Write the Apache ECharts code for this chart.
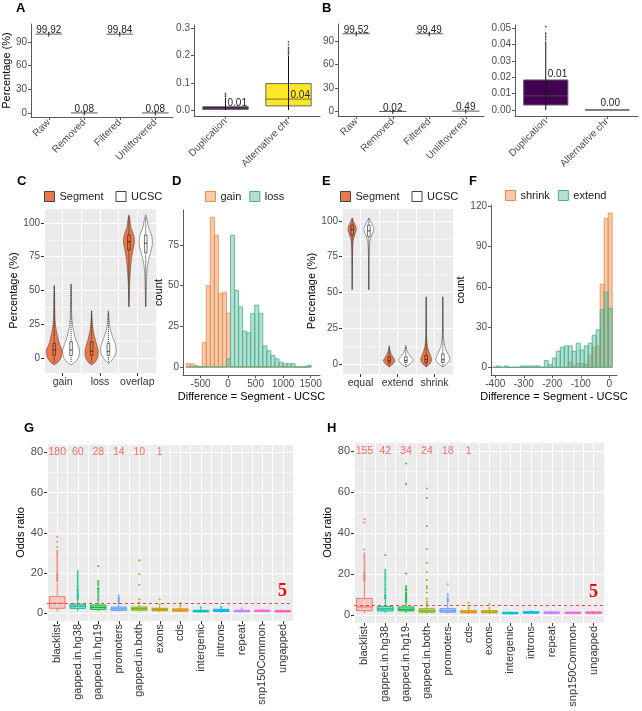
<!DOCTYPE html>
<html><head><meta charset="utf-8">
<script src="https://cdn.jsdelivr.net/npm/echarts@6/dist/echarts.min.js"></script>
<style>html,body{margin:0;padding:0;background:#fff}#c{width:642px;height:711px}</style>
</head><body><div id="c"></div>
<script>
// ================= DATA =================
const qcCats = ['Raw', 'Removed', 'Filtered', 'Unliftovered'];
const qcValuesA = [99.92, 0.08, 99.84, 0.08];
const qcValuesB = [99.52, 0.02, 99.49, 0.49];

const dupCats = ['Duplication', 'Alternative chr'];
const dupBoxA = [[0, 0.002, 0.006, 0.012, 0.045], [0, 0.015, 0.04, 0.097, 0.2]];
const dupOutliersA = [[0.05, 0.055, 0.06], [0.205, 0.21, 0.215, 0.22, 0.225, 0.23, 0.24, 0.25]];
const dupLabelsA = ['0.01', '0.04'];
const dupLabelYA = [0.026, 0.055];
const dupBoxB = [[0, 0.003, 0.0086, 0.0184, 0.042], [0, 0, 0, 0, 0]];
const dupOutliersB = [[0.043, 0.044, 0.045, 0.046, 0.047, 0.051], []];
const dupLabelsB = ['0.01', '0.00'];
const dupLabelYB = [0.022, 0.004];

const cCats = ['gain', 'loss', 'overlap'];
const cSegmentYs = [
  [-5, -3, 0, 3, 6, 10, 15, 20, 25, 30, 40, 50, 54],
  [-5, -3, 0, 3, 6, 10, 15, 20, 25, 30, 35],
  [38, 45, 55, 65, 72, 78, 82, 86, 90, 94, 97, 100, 103, 106]
];
const cSegmentDensity = [
  [0, 0.45, 0.8, 0.92, 0.95, 0.65, 0.44, 0.26, 0.14, 0.08, 0.05, 0.03, 0],
  [0, 0.4, 0.7, 0.78, 0.78, 0.6, 0.38, 0.2, 0.1, 0.05, 0],
  [0, 0.04, 0.08, 0.17, 0.28, 0.42, 0.55, 0.66, 0.6, 0.4, 0.22, 0.16, 0.1, 0]
];
const cSegmentBox = [[-3, 2, 6, 11, 53], [-3, 2, 5, 12, 35], [38, 80, 86, 91, 105]];
const cUcscYs = [
  [-5, -3, 0, 3, 6, 10, 15, 20, 25, 30, 40, 50, 55],
  [-4, -2, 0, 3, 6, 10, 15, 20, 25, 30, 35],
  [38, 45, 55, 65, 72, 78, 82, 86, 90, 94, 97, 100, 103, 106]
];
const cUcscDensity = [
  [0, 0.45, 0.85, 0.98, 1, 0.8, 0.5, 0.3, 0.16, 0.09, 0.05, 0.03, 0],
  [0, 0.35, 0.6, 0.85, 0.93, 0.85, 0.55, 0.28, 0.12, 0.06, 0],
  [0, 0.04, 0.08, 0.14, 0.3, 0.55, 0.72, 0.8, 0.72, 0.5, 0.32, 0.24, 0.12, 0]
];
const cUcscBox = [[-3, 2, 6, 12, 54], [-3, 2, 5, 11, 34], [38, 78, 85, 91, 104]];

const dBinWidth = 73.3;
const dBinCenters = [-726, -653, -580, -506, -433, -360, -286, -213, -140, -66, 7, 80, 153, 227, 300, 373, 447, 520, 593, 667, 740, 813, 887, 960, 1033, 1107, 1180, 1253, 1327, 1400, 1473];
const dGain = [2, 2, 1, 0, 15, 50, 92, 81, 45, 46, 33, 0, 0, 0, 0, 0, 0, 0, 0, 0, 0, 0, 0, 0, 0, 0, 0, 0, 0, 0, 0];
const dLoss = [0, 0, 0, 0, 0, 0, 0, 0, 0, 0, 5, 81, 47, 37, 22, 21, 33, 38, 33, 13, 10, 7, 5, 3, 2, 2, 2, 0, 0, 0, 1];

const eCats = ['equal', 'extend', 'shrink'];
const eSegmentYs = [
  [52, 65, 75, 82, 86, 89, 92, 94, 96, 98, 100, 102],
  [-2, 0, 2, 3, 5, 7, 9, 11, 13],
  [-2, 0, 2, 4, 6, 9, 12, 16, 20, 30, 40, 47]
];
const eSegmentDensity = [
  [0, 0.02, 0.04, 0.07, 0.12, 0.25, 0.42, 0.5, 0.45, 0.3, 0.15, 0],
  [0, 0.45, 0.68, 0.66, 0.45, 0.25, 0.12, 0.05, 0],
  [0, 0.4, 0.62, 0.64, 0.5, 0.3, 0.16, 0.08, 0.04, 0.02, 0.01, 0]
];
const eSegmentBox = [[52, 90, 94, 97, 102], [-2, 1, 2.5, 5, 12], [-2, 1, 3, 6, 47]];
const eUcscYs = [
  [52, 65, 75, 82, 86, 89, 92, 94, 96, 98, 100, 102],
  [-2, 0, 2, 3, 5, 7, 9, 11, 13],
  [-2, 0, 2, 4, 6, 9, 12, 16, 20, 30, 40, 47]
];
const eUcscDensity = [
  [0, 0.02, 0.04, 0.08, 0.14, 0.3, 0.5, 0.6, 0.52, 0.35, 0.18, 0],
  [0, 0.5, 0.85, 0.88, 0.62, 0.35, 0.15, 0.05, 0],
  [0, 0.45, 0.8, 0.84, 0.7, 0.45, 0.25, 0.12, 0.06, 0.03, 0.015, 0]
];
const eUcscBox = [[52, 89, 93, 97, 102], [-2, 1, 2.5, 5, 12], [-2, 1, 3, 7, 47]];

const fBinWidth = 14.04;
const fBinCenters = [-403, -389, -375, -361, -347, -333, -319, -305, -291, -277, -263, -249, -235, -221, -207, -193, -179, -165, -151, -137, -123, -109, -95, -81, -67, -53, -39, -25, -11, 3];
const fShrink = [0, 0, 0, 0, 0, 0, 0, 0, 0, 0, 0, 0, 0, 0, 0, 0, 0, 0, 0, 4, 1, 3, 3, 2, 9, 15, 16, 62, 111, 115];
const fExtend = [0, 1, 0, 1, 0, 0, 0, 1, 1, 1, 1, 1, 0, 5, 2, 7, 12, 15, 16, 16, 12, 18, 13, 16, 18, 24, 28, 43, 56, 44];

const gCats = ['blacklist', 'gapped.in.hg38', 'gapped.in.hg19', 'promoters', 'gapped.in.both', 'exons', 'cds', 'intergenic', 'introns', 'repeat', 'snp150Common', 'ungapped'];
const gBoxes = [
  [0.8, 2.5, 5, 8.3, 15], [1, 2.5, 3.6, 4.6, 6.6], [1, 2, 3, 4.1, 5.8], [0.8, 1.5, 2.2, 3.1, 4.6],
  [0.8, 1.6, 2.3, 3.1, 4.3], [0.6, 1.3, 1.8, 2.5, 3.8], [0.6, 1.1, 1.6, 2.2, 3.6], [0.3, 0.7, 1, 1.5, 2.5],
  [0.2, 1, 1.4, 2, 3], [0.4, 0.8, 1.1, 1.5, 2.2], [0.5, 0.9, 1.2, 1.6, 2.2], [0.4, 0.7, 1, 1.4, 2]
];
const gOutliers = [
  [16, 16.5, 17, 17.5, 18, 18.5, 19, 19.5, 20, 21, 22, 23, 24, 25, 26, 27, 28, 29, 30, 31, 33, 35.5, 38],
  [7, 7.5, 8, 8.5, 9, 9.5, 10, 11, 11.5, 12, 13, 14, 15, 16, 17, 18, 19, 20, 21],
  [6.5, 7, 8, 9, 10, 11, 12, 12.5, 14, 15, 16, 23.5],
  [5, 5.5, 6, 6.5, 7, 7.5, 8, 9],
  [5.3, 7, 14.2, 19.5, 26.3],
  [4.5, 7], [4, 5], [3], [3.2], [2.5], [], []
];
const gCounts = [180, 60, 28, 14, 10, 1];

const hCats = ['blacklist', 'gapped.in.hg38', 'gapped.in.hg19', 'gapped.in.both', 'promoters', 'cds', 'exons', 'intergenic', 'introns', 'repeat', 'snp150Common', 'ungapped'];
const hBoxes = [
  [0.8, 2.1, 4, 8.1, 16], [1, 2, 3, 4.1, 7.6], [1, 2, 2.8, 3.9, 6.5], [0.6, 1.4, 2, 3, 5.2],
  [0.6, 1.4, 2.1, 3.1, 6], [0.5, 1.1, 1.5, 2.1, 3.8], [0.5, 1.1, 1.5, 2.1, 3.2], [0.3, 0.6, 0.9, 1.3, 2],
  [0.6, 0.9, 1.2, 1.6, 2.4], [0.3, 0.8, 1.1, 1.5, 2.2], [0.4, 0.8, 1.1, 1.4, 2], [0.4, 0.8, 1.1, 1.5, 2.1]
];
const hOutliers = [
  [16.5, 17, 17.5, 18, 18.5, 19, 19.5, 20, 20.5, 21, 22, 23, 24, 25, 26, 27, 28, 29, 30, 32, 45.2, 46.8],
  [8, 8.5, 9, 9.5, 10, 11, 12, 13, 14, 15, 16, 17, 18, 19, 20, 21, 22, 29.3],
  [6.5, 7, 7.5, 8, 8.5, 9, 9.5, 10, 10.5, 11, 12, 12.5, 13, 14, 20.3, 63.9, 74],
  [5.5, 6.5, 8, 11, 13, 14, 17, 21, 25.5, 32.2, 43.4, 57.2, 61.8],
  [6.5, 7, 7.5, 8, 9, 10.2, 15],
  [4.5, 6], [3.5, 5.2], [], [], [], [], []
];
const hCounts = [155, 42, 34, 24, 18, 1];
const oddsThreshold = 5;

// ================= STYLE =================
const FONT = "'Liberation Sans', Arial, sans-serif";
const AXT = '#4D4D4D';
const HUE = {
  'blacklist': '#F8766D', 'cds': '#DE8C00', 'exons': '#B79F00', 'gapped.in.both': '#7CAE00',
  'gapped.in.hg19': '#00BA38', 'gapped.in.hg38': '#00C08B', 'intergenic': '#00BFC4', 'introns': '#00B4F0',
  'promoters': '#619CFF', 'repeat': '#C77CFF', 'snp150Common': '#F564E3', 'ungapped': '#FF64B0'
};
const SEG_FILL = '#EA784D';
const ORANGE = '#EC8A48', TEAL = '#45B08E';
function rgba(hex, a) {
  const n = parseInt(hex.slice(1), 16);
  return 'rgba(' + (n >> 16 & 255) + ',' + (n >> 8 & 255) + ',' + (n & 255) + ',' + a + ')';
}
function merge(a, b) {
  const o = Object.assign({}, a);
  for (const k in b) {
    if (b[k] && typeof b[k] === 'object' && !Array.isArray(b[k]) && a[k] && typeof a[k] === 'object' && !Array.isArray(a[k])) o[k] = merge(a[k], b[k]);
    else o[k] = b[k];
  }
  return o;
}
const plainNum = v => String(Math.round(v * 1e6) / 1e6);
const classic = {
  z: 1,
  axisLine: { show: true, onZero: false, lineStyle: { color: '#5a5a5a', width: 1 } },
  axisTick: { show: true, length: 3, lineStyle: { color: '#5a5a5a' } },
  axisLabel: { color: AXT, fontSize: 10, margin: 4, fontFamily: FONT, showMinLabel: false, showMaxLabel: false },
  splitLine: { show: false },
  nameTextStyle: { color: '#000', fontSize: 11, fontFamily: FONT },
  nameLocation: 'middle'
};
const grey = {
  z: 1,
  axisLine: { show: false, onZero: false },
  axisTick: { show: true, length: 3, lineStyle: { color: '#333' } },
  axisLabel: { color: AXT, fontSize: 10, margin: 4, fontFamily: FONT, showMinLabel: false, showMaxLabel: false },
  splitLine: { show: true, lineStyle: { color: '#ffffff', width: 1 } },
  minorTick: { show: false, splitNumber: 2 },
  minorSplitLine: { show: true, lineStyle: { color: '#ffffff', width: 0.5 } },
  nameTextStyle: { color: '#000', fontSize: 11, fontFamily: FONT },
  nameLocation: 'middle'
};
function valAxis(base, grid, min, max, step, extra) {
  return merge(merge(base, { type: 'value', gridIndex: grid, min: min, max: max, minInterval: step, maxInterval: step,
    axisLabel: { formatter: plainNum } }), extra || {});
}
function catAxis(base, grid, data, extra) {
  return merge(merge(base, { type: 'category', gridIndex: grid, data: data, position: 'bottom', axisTick: { alignWithLabel: true },
    axisLabel: { interval: 0, showMinLabel: true, showMaxLabel: true } }), extra || {});
}
function helperAxis(grid, n) {
  return { type: 'value', gridIndex: grid, min: 0, max: 2 * n, interval: 1, position: 'top', z: 1,
    axisLine: { show: false, onZero: false }, axisTick: { show: false }, axisLabel: { show: false },
    splitLine: { show: true, lineStyle: { color: ['rgba(0,0,0,0)', '#ffffff'], width: 1 } } };
}

// ================= RENDERERS =================
function qcLineItem(values) {
  return function (params, api) {
    const i = params.dataIndex, v = values[i];
    const p = api.coord([i, v]);
    const bw = api.size([1, 0])[0] * 0.75;
    return { type: 'group', children: [
      { type: 'line', shape: { x1: p[0] - bw / 2, y1: p[1], x2: p[0] + bw / 2, y2: p[1] }, style: { stroke: '#5a5a5a', lineWidth: 1 } },
      { type: 'line', shape: { x1: p[0], y1: p[1] - 2, x2: p[0], y2: p[1] + 2.5 }, style: { stroke: '#222', lineWidth: 1 } },
      { type: 'text', style: { text: v.toFixed(2), x: p[0], y: p[1] + 1.5, align: 'center', verticalAlign: 'bottom', fontSize: 10, fontFamily: FONT, fill: '#222' } }
    ] };
  };
}
function qcBoxItem(boxes, labels, labelYs, fills) {
  return function (params, api) {
    const i = params.dataIndex, b = boxes[i];
    const x = api.coord([i, 0])[0];
    const bw = api.size([1, 0])[0] * 0.72;
    const Y = v => api.coord([i, v])[1];
    const flat = b[1] === b[3];
    const kids = [
      { type: 'rect', shape: { x: x - bw / 2, y: Y(b[3]), width: bw, height: Y(b[1]) - Y(b[3]) },
        style: { fill: flat ? 'none' : fills[i], stroke: flat ? '#7a7a7a' : '#6a6a6a', lineWidth: 1 } },
      { type: 'line', shape: { x1: x - bw / 2, y1: Y(b[2]), x2: x + bw / 2, y2: Y(b[2]) }, style: { stroke: '#555', lineWidth: 0.8 } }
    ];
    if (!flat) kids.push({ type: 'line', shape: { x1: x, y1: Y(b[0]), x2: x, y2: Y(b[4]) }, style: { stroke: '#111', lineWidth: 1 } });
    kids.push({ type: 'text', style: { text: labels[i], x: flat ? x + 3 : x + 2, y: Y(labelYs[i]), align: flat ? 'center' : 'left',
      verticalAlign: 'middle', fontSize: 10, fontFamily: FONT, fill: '#222' } });
    return { type: 'group', children: kids };
  };
}
function violinItem(ysArr, densArr, boxArr, offset, fill) {
  return function (params, api) {
    const i = params.dataIndex;
    const cx = 2 * i + 1 + offset;
    const half = 0.45 * api.size([1, 0])[0];
    const ys = ysArr[i], ds = densArr[i], b = boxArr[i];
    const right = [], left = [];
    for (let k = 0; k < ys.length; k++) {
      const p = api.coord([cx, ys[k]]);
      right.push([p[0] + ds[k] * half, p[1]]);
      left.push([p[0] - ds[k] * half, p[1]]);
    }
    const pts = right.concat(left.reverse());
    const x = api.coord([cx, 0])[0];
    const Y = v => api.coord([cx, v])[1];
    const w = 2.6;
    return { type: 'group', children: [
      { type: 'polygon', shape: { points: pts, smooth: 0.25 }, style: { fill: fill, stroke: '#3a3a3a', lineWidth: 0.5 } },
      { type: 'line', shape: { x1: x, y1: Y(b[0]), x2: x, y2: Y(b[4]) }, style: { stroke: '#1a1a1a', lineWidth: 0.8, lineDash: [1.2, 0.8] } },
      { type: 'rect', shape: { x: x - w / 2, y: Y(b[3]), width: w, height: Y(b[1]) - Y(b[3]) }, style: { fill: fill, stroke: '#1a1a1a', lineWidth: 0.6 } },
      { type: 'line', shape: { x1: x - w / 2, y1: Y(b[2]), x2: x + w / 2, y2: Y(b[2]) }, style: { stroke: '#1a1a1a', lineWidth: 0.8 } }
    ] };
  };
}
function histItem(bw, fill, stroke) {
  return function (params, api) {
    const c = api.value(0), n = api.value(1);
    const p0 = api.coord([c - bw / 2, n]);
    const p1 = api.coord([c + bw / 2, 0]);
    return { type: 'rect', shape: { x: p0[0], y: p0[1], width: p1[0] - p0[0], height: p1[1] - p0[1] },
      style: { fill: fill, stroke: stroke, lineWidth: 0.8 } };
  };
}
function hueBoxItem(boxes, cats) {
  return function (params, api) {
    const i = params.dataIndex, b = boxes[i], col = HUE[cats[i]];
    const x = api.coord([i, 0])[0];
    const bw = api.size([1, 0])[0] * 0.75;
    const Y = v => api.coord([i, v])[1];
    return { type: 'group', children: [
      { type: 'line', shape: { x1: x, y1: Y(b[0]), x2: x, y2: Y(b[1]) }, style: { stroke: col, lineWidth: 1 } },
      { type: 'line', shape: { x1: x, y1: Y(b[3]), x2: x, y2: Y(b[4]) }, style: { stroke: col, lineWidth: 1 } },
      { type: 'rect', shape: { x: x - bw / 2, y: Y(b[3]), width: bw, height: Y(b[1]) - Y(b[3]) }, style: { fill: rgba(col, 0.3), stroke: col, lineWidth: 1 } },
      { type: 'line', shape: { x1: x - bw / 2, y1: Y(b[2]), x2: x + bw / 2, y2: Y(b[2]) }, style: { stroke: col, lineWidth: 1.3 } }
    ] };
  };
}

// ================= AXES =================
const greyGrid = { show: true, backgroundColor: '#EBEBEB', borderWidth: 0, z: -1 };
const grids = [
  { left: 27, top: 24, width: 146, height: 93 },   // A left
  { left: 194, top: 25, width: 126, height: 91 },  // A right
  { left: 338, top: 24, width: 146, height: 92 },  // B left
  { left: 515, top: 25, width: 123, height: 91 },  // B right
  merge(greyGrid, { left: 44, top: 208, width: 112, height: 165 }), // C
  { left: 183, top: 210, width: 137, height: 165 }, // D
  merge(greyGrid, { left: 342, top: 208, width: 111, height: 166 }), // E
  { left: 491, top: 205, width: 126, height: 170 }, // F
  merge(greyGrid, { left: 47, top: 444, width: 246, height: 177 }), // G
  merge(greyGrid, { left: 354, top: 442, width: 250, height: 181 })  // H
];
const rot45 = { axisLabel: { rotate: 45, fontSize: 10 } };
const xAxes = [
  catAxis(classic, 0, qcCats, rot45),                 // 0
  catAxis(classic, 1, dupCats, rot45),                // 1
  catAxis(classic, 2, qcCats, rot45),                 // 2
  catAxis(classic, 3, dupCats, rot45),                // 3
  catAxis(grey, 4, cCats, { axisLabel: { fontSize: 10.5, color: '#333' } }), // 4
  helperAxis(4, cCats.length),                        // 5
  valAxis(classic, 5, -820, 1670, 500, { name: 'Difference = Segment - UCSC', nameGap: 16 }), // 6
  catAxis(grey, 6, eCats, { axisLabel: { fontSize: 10.5, color: '#333' } }), // 7
  helperAxis(6, eCats.length),                        // 8
  valAxis(classic, 7, -415, 27, 100, { name: 'Difference = Segment - UCSC', nameGap: 16 }), // 9
  catAxis(grey, 8, gCats, { axisLabel: { rotate: 90, fontSize: 11, margin: 3, color: '#333' } }), // 10
  helperAxis(8, gCats.length),                        // 11
  catAxis(grey, 9, hCats, { axisLabel: { rotate: 90, fontSize: 11, margin: 3, color: '#333' } }), // 12
  helperAxis(9, hCats.length)                         // 13
];
const yAxes = [
  valAxis(classic, 0, -5.1, 112.7, 30, { name: 'Percentage (%)', nameGap: 15 }),
  valAxis(classic, 1, -0.022, 0.312, 0.1, { axisLabel: { formatter: v => v.toFixed(1) } }),
  valAxis(classic, 2, -5.8, 112, 30),
  valAxis(classic, 3, -0.0037, 0.052, 0.01, { axisLabel: { formatter: v => v.toFixed(2) } }),
  valAxis(grey, 4, -11, 111, 25, { name: 'Percentage (%)', nameGap: 17 }),
  valAxis(classic, 5, -4.9, 96.5, 25, { name: 'count', nameGap: 16 }),
  valAxis(grey, 6, -7, 109, 25, { name: 'Percentage (%)', nameGap: 16 }),
  valAxis(classic, 7, -5.7, 121, 30, { name: 'count', nameGap: 17 }),
  valAxis(grey, 8, -3.8, 84.1, 20, { name: 'Odds ratio', nameGap: 20, axisLabel: { fontSize: 11 } }),
  valAxis(grey, 9, -3.9, 84.5, 20, { name: 'Odds ratio', nameGap: 21, axisLabel: { fontSize: 11 } })
];

// ================= SERIES =================
const series = [];
function outlierScatter(outs, xi, yi, colorFn, size) {
  const data = [];
  outs.forEach((arr, i) => arr.forEach(v => data.push({ value: [i, v], itemStyle: { color: colorFn(i) } })));
  return { type: 'scatter', xAxisIndex: xi, yAxisIndex: yi, symbolSize: size, data: data, silent: true, z: 3 };
}
// A / B
series.push({ type: 'custom', xAxisIndex: 0, yAxisIndex: 0, renderItem: qcLineItem(qcValuesA), data: qcValuesA.map((v, i) => [i, v]) });
series.push({ type: 'custom', xAxisIndex: 1, yAxisIndex: 1, renderItem: qcBoxItem(dupBoxA, dupLabelsA, dupLabelYA, ['#440154', '#FDE725']), data: dupBoxA.map((b, i) => [i, b[2]]) });
series.push(outlierScatter(dupOutliersA, 1, 1, () => '#111', 1.6));
series.push({ type: 'custom', xAxisIndex: 2, yAxisIndex: 2, renderItem: qcLineItem(qcValuesB), data: qcValuesB.map((v, i) => [i, v]) });
series.push({ type: 'custom', xAxisIndex: 3, yAxisIndex: 3, renderItem: qcBoxItem(dupBoxB, dupLabelsB, dupLabelYB, ['#440154', '#FDE725']), data: dupBoxB.map((b, i) => [i, b[2]]) });
series.push(outlierScatter(dupOutliersB, 3, 3, () => '#111', 1.6));
// C
series.push({ type: 'custom', name: 'Segment', xAxisIndex: 5, yAxisIndex: 4, itemStyle: { color: SEG_FILL },
  renderItem: violinItem(cSegmentYs, cSegmentDensity, cSegmentBox, -0.45, SEG_FILL), data: cCats.map((c, i) => [i, 0]) });
series.push({ type: 'custom', name: 'UCSC', xAxisIndex: 5, yAxisIndex: 4, itemStyle: { color: '#fff' },
  renderItem: violinItem(cUcscYs, cUcscDensity, cUcscBox, 0.45, '#ffffff'), data: cCats.map((c, i) => [i, 0]) });
// D
series.push({ type: 'custom', name: 'gain', xAxisIndex: 6, yAxisIndex: 5, itemStyle: { color: ORANGE },
  renderItem: histItem(dBinWidth, rgba(ORANGE, 0.45), ORANGE), data: dBinCenters.map((c, i) => [c, dGain[i]]) });
series.push({ type: 'custom', name: 'loss', xAxisIndex: 6, yAxisIndex: 5, itemStyle: { color: TEAL },
  renderItem: histItem(dBinWidth, rgba(TEAL, 0.4), TEAL), data: dBinCenters.map((c, i) => [c, dLoss[i]]) });
// E
series.push({ type: 'custom', name: 'Segment', xAxisIndex: 8, yAxisIndex: 6, itemStyle: { color: SEG_FILL },
  renderItem: violinItem(eSegmentYs, eSegmentDensity, eSegmentBox, -0.45, SEG_FILL), data: eCats.map((c, i) => [i, 0]) });
series.push({ type: 'custom', name: 'UCSC', xAxisIndex: 8, yAxisIndex: 6, itemStyle: { color: '#fff' },
  renderItem: violinItem(eUcscYs, eUcscDensity, eUcscBox, 0.45, '#ffffff'), data: eCats.map((c, i) => [i, 0]) });
// F
series.push({ type: 'custom', name: 'shrink', xAxisIndex: 9, yAxisIndex: 7, itemStyle: { color: ORANGE },
  renderItem: histItem(fBinWidth, rgba(ORANGE, 0.45), ORANGE), data: fBinCenters.map((c, i) => [c, fShrink[i]]) });
series.push({ type: 'custom', name: 'extend', xAxisIndex: 9, yAxisIndex: 7, itemStyle: { color: TEAL },
  renderItem: histItem(fBinWidth, rgba(TEAL, 0.4), TEAL), data: fBinCenters.map((c, i) => [c, fExtend[i]]) });
// G / H
function oddsPanel(cats, boxes, outs, counts, xi, yi) {
  series.push({ type: 'custom', xAxisIndex: xi, yAxisIndex: yi, renderItem: hueBoxItem(boxes, cats), data: boxes.map((b, i) => [i, b[2]]) });
  const sc = outlierScatter(outs, xi, yi, i => HUE[cats[i]], 2.2);
  sc.markLine = { silent: true, symbol: ['none', 'none'], data: [{ yAxis: oddsThreshold }],
    lineStyle: { color: '#F8453F', type: [3, 3], width: 1 },
    label: { show: true, position: 'insideEndTop', formatter: String(oddsThreshold), color: '#FF0000', fontSize: 18,
      fontWeight: 'bold', fontFamily: "'Liberation Serif', 'DejaVu Serif', serif", distance: [6, 3] } };
  series.push(sc);
  series.push({ type: 'scatter', xAxisIndex: xi, yAxisIndex: yi, symbolSize: 0.1, itemStyle: { color: 'rgba(0,0,0,0)' }, silent: true,
    data: counts.map((n, i) => [i, 80, n]),
    label: { show: true, position: 'inside', formatter: p => String(p.value[2]), color: '#FF4646', fontSize: 10.5, fontFamily: FONT } });
}
oddsPanel(gCats, gBoxes, gOutliers, gCounts, 10, 8);
oddsPanel(hCats, hBoxes, hOutliers, hCounts, 12, 9);

// ================= LEGENDS / TITLES =================
const legTxt = { fontSize: 11, color: '#1a1a1a', fontFamily: FONT };
const legBase = { icon: 'rect', itemWidth: 10, itemHeight: 10, textStyle: legTxt, selectedMode: false, orient: 'horizontal', padding: 0 };
const legends = [
  merge(legBase, { left: 44, top: 191, itemGap: 12, data: [
    { name: 'Segment', itemStyle: { color: SEG_FILL, borderColor: '#444', borderWidth: 1 } },
    { name: 'UCSC', itemStyle: { color: '#fff', borderColor: '#444', borderWidth: 1 } }] }),
  merge(legBase, { left: 205, top: 191, itemGap: 8, data: [
    { name: 'gain', itemStyle: { color: rgba(ORANGE, 0.45), borderColor: ORANGE, borderWidth: 1 } },
    { name: 'loss', itemStyle: { color: rgba(TEAL, 0.4), borderColor: TEAL, borderWidth: 1 } }] }),
  merge(legBase, { left: 340, top: 191, itemGap: 12, data: [
    { name: 'Segment', itemStyle: { color: SEG_FILL, borderColor: '#444', borderWidth: 1 } },
    { name: 'UCSC', itemStyle: { color: '#fff', borderColor: '#444', borderWidth: 1 } }] }),
  merge(legBase, { left: 505, top: 190, itemGap: 8, data: [
    { name: 'shrink', itemStyle: { color: rgba(ORANGE, 0.45), borderColor: ORANGE, borderWidth: 1 } },
    { name: 'extend', itemStyle: { color: rgba(TEAL, 0.4), borderColor: TEAL, borderWidth: 1 } }] })
];
const letters = [['A', 16, 2], ['B', 322, 2], ['C', 17, 175], ['D', 172, 175], ['E', 322, 175], ['F', 469, 175], ['G', 24, 422], ['H', 327, 422]];
const titles = letters.map(l => ({ text: l[0], left: l[1], top: l[2], padding: 0,
  textStyle: { fontSize: 13, fontWeight: 'bold', color: '#000', fontFamily: FONT } }));

const chart = echarts.init(document.getElementById('c'), null, { renderer: 'canvas' });
chart.setOption({
  animation: false,
  backgroundColor: '#fff',
  textStyle: { fontFamily: FONT },
  title: titles,
  legend: legends,
  grid: grids,
  xAxis: xAxes,
  yAxis: yAxes,
  series: series
});
</script></body></html>
